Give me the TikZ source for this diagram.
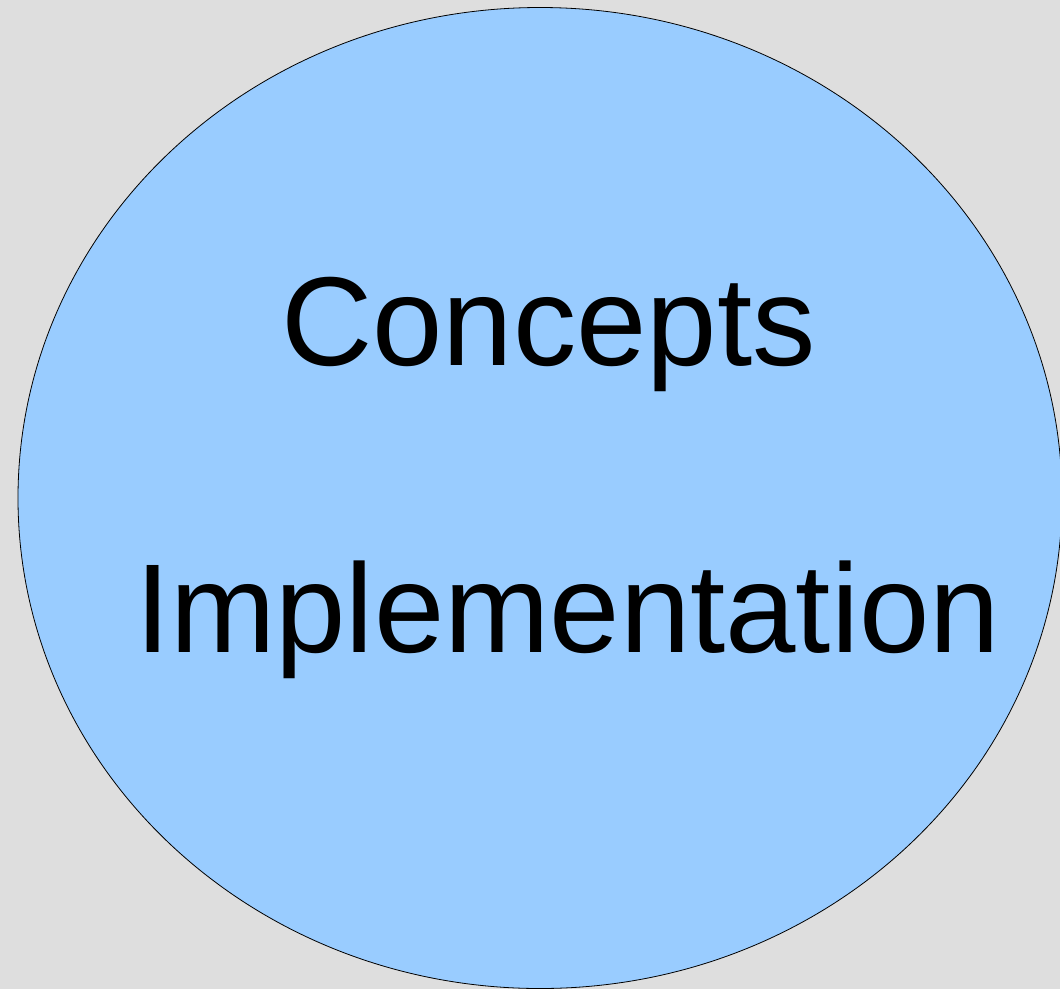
\documentclass[tikz,border=0pt]{standalone}
\usepackage{fontspec}
\setmainfont{Liberation Sans}
\usepackage{tikz}
\usetikzlibrary{shapes,positioning,calc}
\definecolor{bggray}{RGB}{222,222,222}
\definecolor{blobblue}{RGB}{153,204,255}

\begin{document}
\begin{tikzpicture}[
        x=1pt, y=-1pt,
        blob/.style={draw=black, fill=blobblue, line width=0.8pt},
        word/.style={anchor=base, inner sep=0pt, font=\fontsize{126.5}{130}\selectfont}
    ]
        \fill[bggray] (0,0) rectangle (1060,989);
        \useasboundingbox (0,0) rectangle (1060,989);
        \draw[blob] (540,498) ellipse [x radius=522, y radius=490.5];
        \node[word] (concepts) at (548.5,365) {Concepts};
        \node[word] (impl) at (567.5,652) {Implementation};
    \end{tikzpicture}
\end{document}
